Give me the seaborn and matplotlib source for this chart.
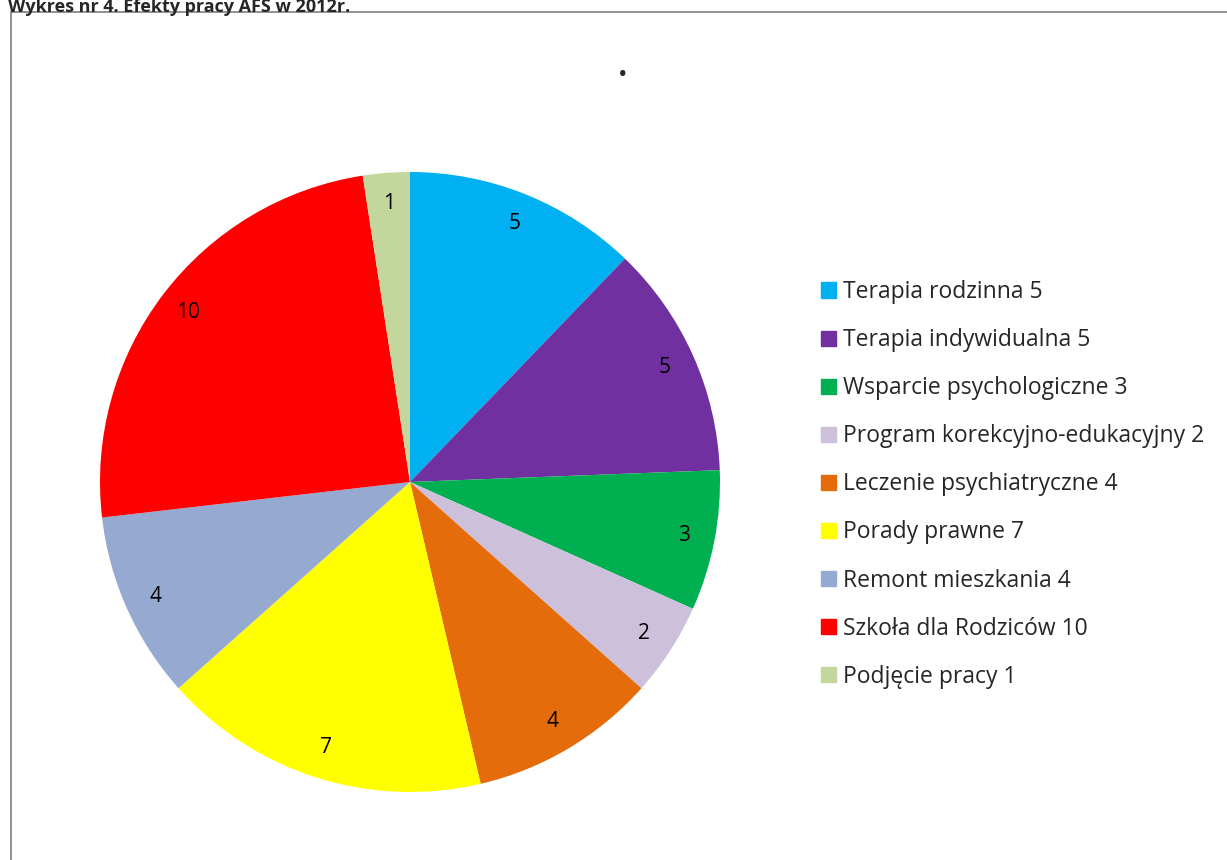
import matplotlib
matplotlib.use("Agg")
import matplotlib.pyplot as plt
import seaborn as sns
from matplotlib.patches import Rectangle

sns.set_theme(style="white")
plt.rcParams['font.family'] = ['Open Sans', 'DejaVu Sans']

categories = ["Terapia rodzinna", "Terapia indywidualna", "Wsparcie psychologiczne",
              "Program korekcyjno-edukacyjny", "Leczenie psychiatryczne", "Porady prawne",
              "Remont mieszkania", "Szkoła dla Rodziców", "Podjęcie pracy"]
values = [5, 5, 3, 2, 4, 7, 4, 10, 1]
colors = ["#00B0F0", "#7030A0", "#00B050", "#CCC0DA", "#E46C0A", "#FFFF00",
          "#95A9D1", "#FF0000", "#C3D69B"]
title = "Wykres nr 4. Efekty pracy AFS w 2012r."

W, H = 1227, 860
fig = plt.figure(figsize=(W / 100, H / 100), dpi=100)
ax = fig.add_axes([0, 0, 1, 1])
ax.set_xlim(0, W)
ax.set_ylim(0, H)
ax.set_aspect('equal')
ax.axis('off')

wedges, texts, autotexts = ax.pie(
    values, colors=colors, startangle=90, counterclock=False,
    center=(410, H - 482), radius=310, frame=False,
    wedgeprops=dict(linewidth=0),
    autopct=lambda p: f"{round(p * sum(values) / 100):d}", pctdistance=0.9,
    textprops=dict(fontsize=15, color="black"))
ax.set_xlim(0, W)
ax.set_ylim(0, H)

# frame
fig.patches.append(Rectangle((11 / W, -0.1), 1.2, (H - 12) / H + 0.1, transform=fig.transFigure,
                             fill=False, edgecolor="#7F7F7F", linewidth=1.2))
fig.text(8 / W, 1 + 2 / H, title, fontsize=13, fontweight='bold', ha='left', va='top')
ax.text(623, H - 75, "•", fontsize=18, ha='center', va='center')

handles = [Rectangle((0, 0), 1, 1, color=c) for c in colors]
labels = [f"{c} {v}" for c, v in zip(categories, values)]
fig.legend(handles, labels, loc='upper left', bbox_to_anchor=(812 / W, 1 - 271 / H),
           frameon=False, fontsize=16.5, handlelength=0.65, handleheight=0.65,
           handletextpad=0.3, labelspacing=1.05, borderaxespad=0)

fig.savefig("out.png", dpi=100)
